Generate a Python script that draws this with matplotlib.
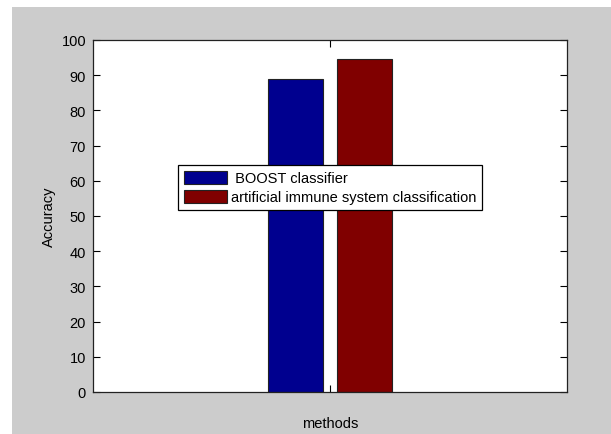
import matplotlib
matplotlib.use("Agg")
import matplotlib.pyplot as plt
from matplotlib.patches import Rectangle

plt.rcParams['font.family'] = ['Liberation Sans', 'DejaVu Sans']

series = [" BOOST classifier", "artificial immune system classification"]
values = [88.8, 94.7]
colors = ["#00008f", "#800000"]
yticks = list(range(0, 101, 10))

W, H = 611, 435
fig = plt.figure(figsize=(W / 100, H / 100), dpi=100, facecolor="white")
fig.patches.append(Rectangle((12 / W, 0), 1 - 12 / W, 1 - 8 / H, transform=fig.transFigure,
                             facecolor="#cccccc", edgecolor="none", zorder=-10))

ax = fig.add_axes([93 / W, (H - 393) / H, (567 - 93) / W, (393 - 41) / H])
ax.set_facecolor("white")

width = 0.116
offsets = [-0.073, 0.072]
for name, v, c, o in zip(series, values, colors, offsets):
    ax.bar(1 + o, v, width=width, color=c, edgecolor="#222222", linewidth=0.8, label=name)

ax.set_xlim(0.5, 1.5)
ax.set_ylim(0, 100)
ax.set_xticks([1])
ax.set_xticklabels([""])
ax.set_yticks(yticks)
ax.tick_params(axis="both", direction="in", length=5, width=0.8, labelsize=10.5,
               top=True, right=True, colors="black", pad=5)
for s in ax.spines.values():
    s.set_linewidth(0.9)
    s.set_color("#222222")

ax.set_xlabel("methods", fontsize=10.5, labelpad=12)
ax.set_ylabel("Accuracy", fontsize=10.5, labelpad=4)

leg = ax.legend(loc="upper left", bbox_to_anchor=(0.179, 0.645), fontsize=10.5,
                frameon=True, fancybox=False, edgecolor="black", framealpha=1,
                borderpad=0.4, handlelength=3.0, handleheight=1.0, handletextpad=0.25,
                labelspacing=0.3, borderaxespad=0)
leg.get_frame().set_linewidth(0.9)

fig.savefig("out.png", dpi=100, facecolor=fig.get_facecolor())
